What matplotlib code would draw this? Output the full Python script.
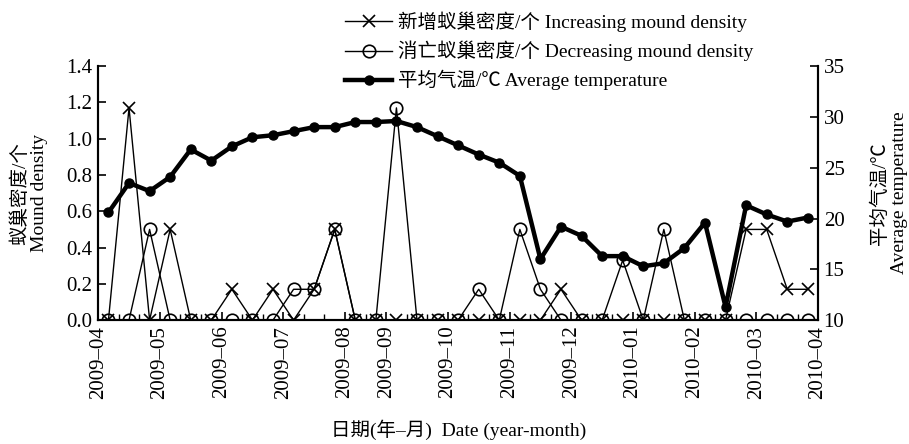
import matplotlib.pyplot as plt
import numpy as np

plt.rcParams['font.family'] = ['Liberation Serif', 'Noto Sans CJK SC']
plt.rcParams['axes.unicode_minus'] = False

# sampling points (about every 10 days), Apr 2009 - Mar 2010
increasing = [0, 1.17, 0, 0.5, 0, 0, 0.17, 0, 0.17, 0, 0.17, 0.5, 0, 0, 0, 0, 0, 0,
              0, 0, 0, 0, 0.17, 0, 0, 0, 0, 0, 0, 0, 0, 0.5, 0.5, 0.17, 0.17]
decreasing = [0, 0, 0.5, 0, 0, 0, 0, 0, 0, 0.17, 0.17, 0.5, 0, 0, 1.17, 0, 0, 0,
              0.17, 0, 0.5, 0.17, 0, 0, 0, 0.33, 0, 0.5, 0, 0, 0, 0, 0, 0, 0]
temperature = [20.6, 23.5, 22.7, 24.1, 26.8, 25.7, 27.1, 28.0, 28.2, 28.6, 29.0, 29.0,
               29.5, 29.5, 29.6, 29.0, 28.1, 27.2, 26.3, 25.5, 24.2, 16.0, 19.2, 18.3,
               16.3, 16.3, 15.3, 15.6, 17.1, 19.6, 11.3, 21.3, 20.4, 19.7, 20.1]
month_labels = ['2009–04', '2009–05', '2009–06', '2009–07', '2009–08', '2009–09',
                '2009–10', '2009–11', '2009–12', '2010–01', '2010–02', '2010–03', '2010–04']
# category boundary where each month label sits
month_pos = [-0.5, 2.5, 5.5, 8.5, 11.5, 13.5, 16.5, 19.5, 22.5, 25.5, 28.5, 31.5, 34.5]

x = np.arange(len(temperature))

fig = plt.figure(figsize=(9.09, 4.44), dpi=100)
ax = fig.add_axes([0.108, 0.279, 0.792, 0.572])
ax2 = ax.twinx()

l1, = ax.plot(x, increasing, color='black', lw=1, marker='x', ms=9, mew=1.2)
l2, = ax.plot(x, decreasing, color='black', lw=1, marker='o', ms=9, mfc='none', mew=1.2)
l3, = ax2.plot(x, temperature, color='black', lw=3.2, marker='o', ms=6.5)

ax.set_xlim(-0.5, 34.5)
ax.set_ylim(0, 1.4)
ax.set_yticks(np.arange(0, 1.41, 0.2))
ax.set_yticklabels(['%.1f' % v for v in np.arange(0, 1.41, 0.2)])
ax2.set_ylim(10, 35)
ax2.set_yticks([10, 15, 20, 25, 30, 35])

ax.set_xticks(month_pos)
ax.set_xticklabels(month_labels, rotation=90)
ax.set_xticks(np.arange(-0.5, 35, 1), minor=True)

for a in (ax, ax2):
    a.spines['top'].set_visible(False)
    for s in a.spines.values():
        s.set_linewidth(1.5)
ax.tick_params(axis='both', which='major', direction='in', length=6, width=1.2,
               labelsize=15, pad=4)
ax.tick_params(axis='x', which='minor', direction='in', length=4, width=1)
ax2.tick_params(axis='y', direction='in', length=6, width=1.2, labelsize=15, pad=4)

ax.set_ylabel('蚁巢密度/个\nMound density', fontsize=14, linespacing=1.15, labelpad=13)
ax2.set_ylabel('平均气温/℃\nAverage temperature', fontsize=14, linespacing=1.15,
               labelpad=19)
ax.set_xlabel('日期(年–月)  Date (year-month)', fontsize=14, labelpad=15)

fig.legend([l1, l2, l3],
           ['新增蚁巢密度/个 Increasing mound density',
            '消亡蚁巢密度/个 Decreasing mound density',
            '平均气温/℃ Average temperature'],
           loc='upper left', bbox_to_anchor=(0.367, 1.0), frameon=False, fontsize=14,
           handlelength=2.4, handletextpad=0.3, labelspacing=0.45, borderpad=0.1)

fig.savefig('out.png', dpi=100)
